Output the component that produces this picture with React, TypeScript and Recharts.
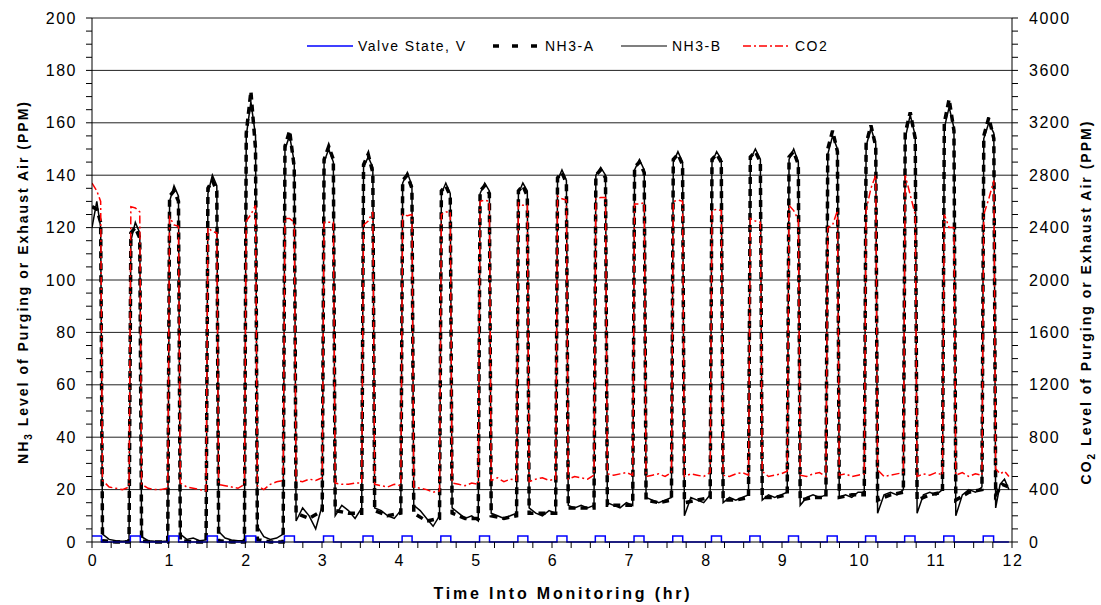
import { ComposedChart, Line, XAxis, YAxis, ReferenceLine } from 'recharts';

// Timing of each purge cycle (hr): NH3 rise and fall
const RISE = [0, 0.495, 1.0, 1.5, 2.0, 2.505, 3.015, 3.53, 4.04, 4.545, 5.05, 5.55, 6.06, 6.56, 7.065, 7.57, 8.075, 8.575, 9.08, 9.585, 10.085, 10.595, 11.105, 11.62];
const FALL = [0.125, 0.635, 1.14, 1.64, 2.145, 2.65, 3.16, 3.675, 4.185, 4.685, 5.195, 5.69, 6.2, 6.71, 7.215, 7.715, 8.22, 8.73, 9.225, 9.735, 10.235, 10.75, 11.255, 11.775];
const END_TIME = 11.96;

// Valve state pulses
const VALVE_ON = [0, 0.5, 1.0, 1.505, 2.005, 2.51, 3.02, 3.535, 4.045, 4.55, 5.055, 5.555, 6.065, 6.565, 7.07, 7.575, 8.08, 8.58, 9.085, 9.59, 10.09, 10.6, 11.11, 11.625];
const VALVE_OFF = [0.125, 0.63, 1.13, 1.635, 2.135, 2.64, 3.15, 3.665, 4.175, 4.68, 5.185, 5.685, 6.195, 6.695, 7.2, 7.705, 8.21, 8.715, 9.215, 9.72, 10.225, 10.735, 11.245, 11.76];
const VALVE_LEVEL = 2.3;

// NH3-B (ppm): plateau [start, middle, end] and the low values between cycles
const NH3B_HIGH = [
  [120, 130, 120], [115, 122, 118], [130, 136, 132], [133, 140, 136], [155, 168, 155], [150, 155, 145],
  [145, 150, 145], [143, 147, 143], [137, 141, 136], [133, 137, 133], [133, 137, 134], [133, 137, 134],
  [138, 142, 138], [140, 143, 140], [142, 146, 142], [145, 149, 145], [145, 149, 146], [146, 150, 146],
  [146, 150, 145], [148, 155, 150], [151, 158, 152], [154, 163, 155], [158, 166, 158], [154, 160, 156],
];
const NH3B_LOW = [
  [3, 1, 0.5, 0.3, 0.5], [2, 0.5, 0.3, 0.2, 0.4], [3, 1, 1.5, 0.5, 0.8], [4, 1.5, 0.8, 0.5, 0.6],
  [6, 2, 1, 1.5, 3], [8, 13, 10, 5, 14], [10, 14, 12, 9, 13], [13, 12, 10, 9, 12],
  [14, 12, 9, 6, 10], [13, 11, 9, 10, 8], [11, 10, 9, 10, 11], [13, 11, 10, 12, 11],
  [14, 13, 14, 13, 14], [15, 14, 13, 15, 14], [17, 16, 15, 16, 17], [10, 17, 16, 15, 18],
  [15, 17, 16, 17, 18], [16, 18, 17, 18, 19], [14, 17, 18, 17, 18], [17, 18, 17, 19, 19],
  [11, 18, 19, 18, 20], [11, 18, 19, 18, 20], [10, 18, 20, 19, 21], [13, 22, 24, 20],
];

// NH3-A (ppm)
const NH3A_HIGH = [
  [128, 127, 122], [118, 120, 116], [132, 134, 130], [135, 138, 134], [156, 172, 150], [151, 157, 143],
  [146, 151, 146], [144, 148, 141], [138, 140, 135], [134, 136, 132], [134, 136, 133], [134, 136, 132],
  [139, 141, 137], [140, 142, 139], [143, 145, 141], [146, 148, 144], [146, 148, 145], [147, 149, 145],
  [147, 149, 144], [150, 157, 149], [152, 159, 151], [156, 164, 154], [160, 169, 157], [155, 162, 154],
];
const NH3A_LOW = [
  [0.5, 0, 0], [0.3, 0, 0], [0.5, 0, 0], [0.5, 0, 0], [1, 0, 0], [11, 9, 12], [12, 11, 11], [12, 10, 11],
  [11, 8, 9], [11, 9, 9], [10, 9, 10], [11, 11, 11], [13, 13, 13], [14, 14, 14], [16, 15, 16], [15, 16, 17],
  [16, 16, 17], [17, 17, 18], [16, 17, 17], [17, 18, 18], [16, 18, 19], [16, 18, 19], [16, 19, 20], [18, 22, 21],
];

// CO2 (ppm, right axis)
const CO2_HIGH = [
  [2740, 2680, 2600], [2560, 2550, 2520], [2480, 2420, 2410], [2400, 2370, 2360], [2450, 2500, 2570], [2470, 2470, 2440],
  [2440, 2440, 2440], [2420, 2450, 2520], [2500, 2490, 2500], [2500, 2520, 2520], [2600, 2610, 2600], [2590, 2570, 2570],
  [2640, 2620, 2610], [2620, 2630, 2630], [2580, 2580, 2590], [2600, 2610, 2600], [2530, 2540, 2530], [2470, 2450, 2440],
  [2570, 2530, 2460], [2400, 2420, 2530], [2530, 2700, 2800], [2800, 2650, 2500], [2500, 2400, 2400], [2500, 2620, 2760],
];
const CO2_LOW = [
  [470, 420, 410, 400, 420], [440, 410, 400, 400, 410], [450, 420, 410, 400, 390], [440, 430, 420, 410, 440],
  [430, 400, 440, 460, 470], [470, 460, 480, 470, 490], [450, 440, 440, 450, 450], [440, 430, 420, 440, 430],
  [420, 410, 400, 380, 390], [450, 440, 430, 450, 440], [470, 490, 460, 480, 470], [460, 480, 490, 470, 480],
  [480, 500, 490, 480, 510], [520, 510, 520, 530, 510], [500, 510, 520, 500, 530], [500, 520, 510, 500, 530],
  [510, 500, 520, 530, 510], [540, 500, 510, 520, 540], [510, 500, 520, 530, 500], [510, 520, 500, 510, 520],
  [550, 500, 510, 520, 530], [500, 520, 510, 530, 510], [510, 530, 500, 520, 510], [560, 520, 540, 500],
];

// Axis labels
const X_LABELS = [0, 1, 2, 3, 4, 5, 6, 7, 8, 9, 10, 11, 12];
const NH3_LABELS = [0, 20, 40, 60, 80, 100, 120, 140, 160, 180, 200];
const CO2_LABELS = [0, 400, 800, 1200, 1600, 2000, 2400, 2800, 3200, 3600, 4000];

const X_TICKS = Array.from({ length: 49 }, (_, i) => i / 4);
const NH3_TICKS = Array.from({ length: 41 }, (_, i) => i * 5);
const CO2_TICKS = Array.from({ length: 41 }, (_, i) => i * 100);

const FONT = '"Liberation Sans", Arial, sans-serif';
const EDGE = 0.012;

type Pt = { t: number; v: number };

function buildPulses(high: number[][], low: number[][]): Pt[] {
  const pts: Pt[] = [];
  RISE.forEach((rise, k) => {
    const fall = FALL[k];
    pts.push({ t: k === 0 ? rise : rise + EDGE, v: high[k][0] });
    pts.push({ t: (rise + fall) / 2, v: high[k][1] });
    pts.push({ t: fall - EDGE, v: high[k][2] });
    const from = fall + EDGE;
    const to = k < RISE.length - 1 ? RISE[k + 1] - EDGE : END_TIME;
    const vals = low[k];
    vals.forEach((v, i) => {
      pts.push({ t: from + ((to - from) * i) / (vals.length - 1), v });
    });
  });
  return pts;
}

function buildValve(): Pt[] {
  const pts: Pt[] = [];
  VALVE_ON.forEach((on, k) => {
    if (k > 0) pts.push({ t: on, v: 0 });
    pts.push({ t: on, v: VALVE_LEVEL });
    pts.push({ t: VALVE_OFF[k], v: VALVE_LEVEL });
    pts.push({ t: VALVE_OFF[k], v: 0 });
  });
  pts.push({ t: END_TIME, v: 0 });
  return pts;
}

const nh3aData = buildPulses(NH3A_HIGH, NH3A_LOW);
const nh3bData = buildPulses(NH3B_HIGH, NH3B_LOW);
const co2Data = buildPulses(CO2_HIGH, CO2_LOW);
const valveData = buildValve();

const tickText = { fontFamily: FONT, fontSize: 16, letterSpacing: 1.5, fill: '#000' };

function XTick(props: any) {
  const { x, y, payload } = props;
  if (!X_LABELS.includes(payload.value)) return <g />;
  return (
    <text x={x + 1} y={y} dy="0.71em" textAnchor="middle" {...tickText}>
      {payload.value}
    </text>
  );
}

function LeftTick(props: any) {
  const { x, y, payload } = props;
  if (!NH3_LABELS.includes(payload.value)) return <g />;
  return (
    <text x={x} y={y} dy="0.355em" textAnchor="end" {...tickText}>
      {payload.value}
    </text>
  );
}

function RightTick(props: any) {
  const { x, y, payload } = props;
  if (!CO2_LABELS.includes(payload.value)) return <g />;
  return (
    <text x={x} y={y} dy="0.355em" textAnchor="start" {...tickText}>
      {payload.value}
    </text>
  );
}

function Overlay() {
  const legendText = { fontFamily: FONT, fontSize: 14, letterSpacing: 1.5, fill: '#000' };
  const titleText = { fontFamily: FONT, fontSize: 14, fontWeight: 700, letterSpacing: 2, fill: '#000' };
  return (
    <svg width={1101} height={605} style={{ position: 'absolute', left: 0, top: 0, pointerEvents: 'none' }}>
      {/* legend */}
      <line x1={307} x2={353} y1={46} y2={46} stroke="#0000ff" strokeWidth={1.5} />
      <text x={358} y={51} {...legendText}>Valve State, V</text>
      <line x1={493} x2={537} y1={46} y2={46} stroke="#000" strokeWidth={3.5} strokeDasharray="6 13" />
      <text x={545} y={51} {...legendText}>NH3-A</text>
      <line x1={621} x2={667} y1={46} y2={46} stroke="#000" strokeWidth={1.2} />
      <text x={672} y={51} {...legendText}>NH3-B</text>
      <line x1={743} x2={790} y1={46} y2={46} stroke="#ff0000" strokeWidth={1.5} strokeDasharray="8 3 2 3" />
      <text x={795} y={51} {...legendText}>CO2</text>

      {/* axis titles */}
      <text x={563} y={599} textAnchor="middle" {...titleText} fontSize={16} letterSpacing={2.8}>
        Time Into Monitoring (hr)
      </text>
      <text transform="translate(28,282) rotate(-90)" textAnchor="middle" {...titleText}>
        NH<tspan fontSize={10} dy={4}>3</tspan>
        <tspan dy={-4}> Level of Purging or Exhaust Air (PPM)</tspan>
      </text>
      <text transform="translate(1091,302) rotate(-90)" textAnchor="middle" {...titleText}>
        CO<tspan fontSize={10} dy={4}>2</tspan>
        <tspan dy={-4}> Level of Purging or Exhaust Air (PPM)</tspan>
      </text>
    </svg>
  );
}

export default function App() {
  return (
    <div style={{ position: 'absolute', left: 0, top: 0, width: 1101, height: 605, background: '#fff' }}>
      <ComposedChart width={1101} height={605} margin={{ top: 18, right: 0, bottom: 0, left: 0 }}>
        <XAxis
          dataKey="t"
          type="number"
          domain={[0, 12]}
          ticks={X_TICKS}
          interval={0}
          allowDataOverflow
          height={63}
          tickSize={6}
          tickMargin={7}
          tick={XTick}
          axisLine={{ stroke: '#000' }}
          tickLine={{ stroke: '#000' }}
        />
        <YAxis
          yAxisId="left"
          domain={[0, 200]}
          ticks={NH3_TICKS}
          interval={0}
          width={92}
          tickSize={6}
          tickMargin={9}
          tick={LeftTick}
          axisLine={{ stroke: '#000' }}
          tickLine={{ stroke: '#000' }}
        />
        <YAxis
          yAxisId="right"
          orientation="right"
          domain={[0, 4000]}
          ticks={CO2_TICKS}
          interval={0}
          width={89}
          tickSize={6}
          tickMargin={11}
          tick={RightTick}
          axisLine={{ stroke: '#000' }}
          tickLine={{ stroke: '#000' }}
        />
        {NH3_LABELS.filter((v) => v > 0).map((v) => (
          <ReferenceLine key={v} yAxisId="left" y={v} stroke="#222" strokeWidth={1} />
        ))}
        <Line
          yAxisId="left"
          data={nh3aData}
          dataKey="v"
          type="linear"
          stroke="#000"
          strokeWidth={3.5}
          strokeDasharray="7 5"
          dot={false}
          isAnimationActive={false}
        />
        <Line
          yAxisId="left"
          data={nh3bData}
          dataKey="v"
          type="linear"
          stroke="#000"
          strokeWidth={1.5}
          dot={false}
          isAnimationActive={false}
        />
        <Line
          yAxisId="right"
          data={co2Data}
          dataKey="v"
          type="linear"
          stroke="#ff0000"
          strokeWidth={1.5}
          strokeDasharray="8 3 2 3"
          dot={false}
          isAnimationActive={false}
        />
        <Line
          yAxisId="left"
          data={valveData}
          dataKey="v"
          type="linear"
          stroke="#0000ff"
          strokeWidth={1.5}
          dot={false}
          isAnimationActive={false}
        />
      </ComposedChart>
      <Overlay />
    </div>
  );
}
